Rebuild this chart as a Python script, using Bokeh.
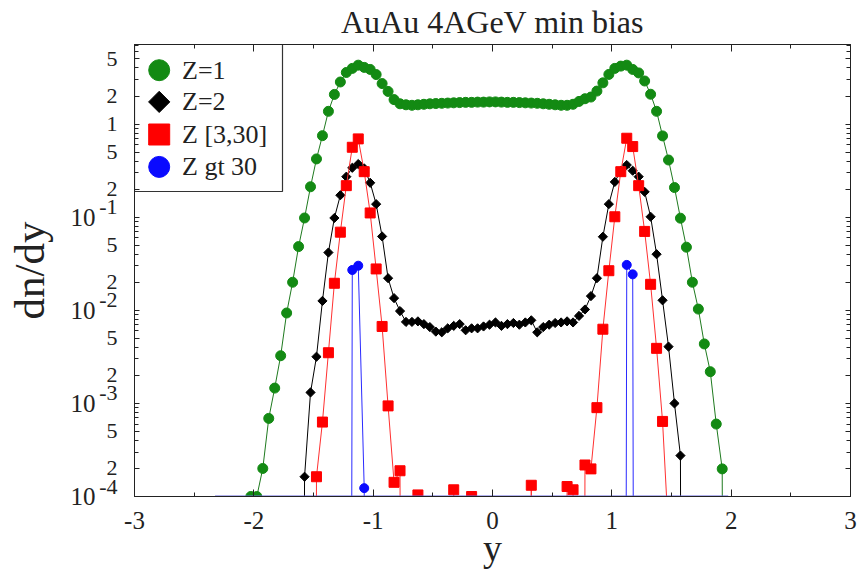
import numpy as np
from bokeh.plotting import figure
from bokeh.models import Range1d, LinearScale, FixedTicker, LinearAxis, LogAxis
from bokeh.core.properties import value
from bokeh.embed import file_html
from bokeh.resources import INLINE

# rapidity bin centres, bin width 0.05
rapidity = np.round(np.arange(-2.325, 2.0, 0.05), 3)

# dn/dy per fragment class (0 = empty bin)
z1 = [
    0, 0, 0, 0, 0, 0, 1.0e-4, 1.0e-4, 2.0e-4, 6.9e-4,
    1.46e-3, 3.25e-3, 9.35e-3, 0.0200, 0.0483, 0.098, 0.212, 0.422, 0.750, 1.37,
    2.08, 2.83, 3.58, 3.96, 4.29, 4.06, 3.86, 3.40, 2.72, 2.24,
    1.83, 1.65, 1.61, 1.59, 1.61, 1.63, 1.65, 1.66, 1.67, 1.68,
    1.69, 1.70, 1.71, 1.71, 1.72, 1.72, 1.73, 1.73, 1.72, 1.71,
    1.71, 1.70, 1.69, 1.68, 1.67, 1.65, 1.63, 1.61, 1.59, 1.59,
    1.63, 1.75, 1.87, 1.95, 2.26, 2.77, 3.41, 3.96, 4.19, 4.29,
    3.86, 3.54, 2.90, 2.09, 1.37, 0.746, 0.411, 0.208, 0.0975, 0.0476,
    0.0200, 0.0103, 4.35e-3, 2.19e-3, 6.0e-4, 1.98e-4, 0,
]
z2 = [
    0, 0, 0, 0, 0, 0, 0, 0, 0, 0,
    0, 0, 0, 0, 0, 1.63e-4, 1.31e-3, 3.17e-3, 0.0126, 0.0417,
    0.098, 0.172, 0.272, 0.339, 0.372, 0.334, 0.234, 0.138, 0.0621, 0.0221,
    0.0135, 0.0098, 0.0075, 0.0075, 0.0076, 0.0071, 0.0066, 0.0059, 0.0058, 0.0064,
    0.0068, 0.0071, 0.0061, 0.0064, 0.0064, 0.0067, 0.0070, 0.0074, 0.0068, 0.0071,
    0.0073, 0.0070, 0.0074, 0.0078, 0.0058, 0.0066, 0.0070, 0.0073, 0.0074, 0.0076,
    0.0074, 0.0087, 0.0102, 0.0142, 0.0221, 0.0616, 0.138, 0.239, 0.315, 0.363,
    0.315, 0.272, 0.187, 0.101, 0.0400, 0.0128, 4.07e-3, 1.0e-3, 2.75e-4, 0,
    0, 0, 0, 0, 0, 0, 0,
]
z3_30 = [
    0, 0, 0, 0, 0, 0, 0, 0, 0, 0,
    0, 0, 0, 0, 0, 0, 0, 1.63e-4, 6.3e-4, 3.5e-3,
    0.0195, 0.0690, 0.218, 0.563, 0.693, 0.308, 0.111, 0.0278, 6.7e-3, 9.4e-4,
    1.42e-4, 1.89e-4, 0, 0, 1.04e-4, 0, 0, 0, 0, 0,
    1.18e-4, 0, 0, 1.0e-4, 0, 0, 0, 0, 0, 0,
    0, 0, 0, 1.32e-4, 0, 0, 0, 0, 0, 1.28e-4,
    1.18e-4, 0, 2.18e-4, 1.98e-4, 9.0e-4, 6.26e-3, 0.0266, 0.101, 0.308, 0.704,
    0.573, 0.218, 0.0703, 0.0190, 3.9e-3, 6.4e-4, 4e-5, 0, 0, 0,
    0, 0, 0, 0, 0, 0, 0,
]
z_gt30 = [
    0, 0, 0, 0, 0, 0, 0, 0, 0, 0,
    0, 0, 0, 0, 0, 0, 0, 0, 0, 0,
    0, 0, 0, 0.0271, 0.0301, 1.23e-4, 0, 0, 0, 0,
    0, 0, 0, 0, 0, 0, 0, 0, 0, 0,
    0, 0, 0, 0, 0, 0, 0, 0, 0, 0,
    0, 0, 0, 0, 0, 0, 0, 0, 0, 0,
    0, 0, 0, 0, 0, 0, 0, 0, 0, 0.0307,
    0.0243, 0, 0, 0, 0, 0, 0, 0, 0, 0,
    0, 0, 0, 0, 0, 0, 0,
]

series_labels = ["Z=1", "Z=2", "Z [3,30]", "Z gt 30"]

x_major = [-3, -2, -1, 0, 1, 2, 3]
x_minor = [-2.5, -1.5, -0.5, 0.5, 1.5, 2.5]
y_decades = [1e-4, 1e-3, 1e-2, 1e-1]
y_decade_exponents = ["-4", "-3", "-2", "-1"]
y_mantissa_ticks = [2e-4, 5e-4, 2e-3, 5e-3, 2e-2, 5e-2, 2e-1, 5e-1, 1.0, 2.0, 5.0]
y_mantissa_labels = ["2", "5", "2", "5", "2", "5", "2", "5", "1", "2", "5"]
y_major = sorted(y_decades + y_mantissa_ticks)
y_minor = [m * d for d in (1e-4, 1e-3, 1e-2, 1e-1) for m in (3, 4, 6, 7, 8, 9)] + [3.0, 4.0, 6.0, 7.0]

Y_MIN, Y_MAX = 1e-4, 7.15
FRAME_W, FRAME_H = 716, 452
SERIF = "Liberation Serif"
INK = "#222222"
EMPTY = 1e-30  # empty bins sit far below the axis, so the lines drop straight down
EXP_RAISE = 10 ** (10 / 93.2)  # lifts the decade exponents ~10 px above their tick


def on_log(v):
    v = np.asarray(v, dtype=float)
    return np.where(v > 0, v, EMPTY)


p = figure(
    width=859, height=579,
    x_range=Range1d(-3, 3), y_range=Range1d(Y_MIN, Y_MAX), y_axis_type="log",
    output_backend="svg", toolbar_location=None,
    title="AuAu 4AGeV min bias",
)
p.min_border_left = 134
p.min_border_right = 9
p.min_border_top = 44
p.min_border_bottom = 83
p.grid.visible = False
p.outline_line_color = "#333333"
p.background_fill_color = "white"
p.border_fill_color = "white"

p.title.align = "center"
p.title.vertical_align = "top"
p.title.text_font = SERIF
p.title.text_font_style = "normal"
p.title.text_font_size = "32px"
p.title.text_color = INK
p.title.standoff = 6

xt = FixedTicker(ticks=x_major, minor_ticks=x_minor)
yt = FixedTicker(ticks=y_major, minor_ticks=y_minor)


def style_axis(ax):
    ax.axis_line_color = INK
    ax.major_tick_line_color = INK
    ax.minor_tick_line_color = INK
    ax.major_tick_out = 0
    ax.minor_tick_out = 0
    ax.major_label_text_font = SERIF
    ax.major_label_text_font_size = "25px"
    ax.major_label_text_color = INK
    ax.axis_label_text_font = SERIF
    ax.axis_label_text_font_style = "normal"
    ax.axis_label_text_color = INK


def ticks_only(ax):
    ax.major_label_text_color = None
    ax.major_label_text_font_size = "1px"
    ax.major_label_standoff = 0


def labels_only(ax):
    ax.axis_line_color = None
    ax.major_tick_line_color = None
    ax.minor_tick_line_color = None
    ax.major_tick_in = 0
    ax.minor_tick_in = 0


xa = p.xaxis[0]
xa.ticker = xt
style_axis(xa)
xa.major_tick_in = 7
xa.minor_tick_in = 4
xa.major_label_overrides = {t: str(t) for t in x_major}
xa.major_label_standoff = 15
xa.axis_label = "y"
xa.axis_label_text_font_size = "38px"
xa.axis_label_standoff = -5

# left side: tick marks on the frame edge, then the mantissa/exponent
# column, then the "10" column carrying the axis title
ya = p.yaxis[0]
ya.ticker = yt
style_axis(ya)
ya.major_tick_in = 5
ya.minor_tick_in = 4
ticks_only(ya)
ya.major_label_overrides = {t: "" for t in y_major}

exp_ticks = [d * EXP_RAISE for d in y_decades]
mid_ticks = y_mantissa_ticks + exp_ticks
mid_axis = LogAxis(ticker=FixedTicker(ticks=mid_ticks, minor_ticks=[]))
style_axis(mid_axis)
labels_only(mid_axis)
mid_axis.major_label_overrides = dict(zip(mid_ticks, y_mantissa_labels + y_decade_exponents))
mid_axis.major_label_text_font_size = "22px"
mid_axis.major_label_standoff = 17
p.add_layout(mid_axis, "left")

ten_axis = LogAxis(ticker=FixedTicker(ticks=y_decades, minor_ticks=[]))
style_axis(ten_axis)
labels_only(ten_axis)
ten_axis.major_label_overrides = {d: "10" for d in y_decades}
ten_axis.major_label_standoff = 1
ten_axis.axis_label = "dn/dy"
ten_axis.axis_label_text_font_size = "43px"
ten_axis.axis_label_standoff = 15
p.add_layout(ten_axis, "left")

top = LinearAxis(ticker=xt)
style_axis(top)
top.major_tick_in = 7
top.minor_tick_in = 4
ticks_only(top)
p.add_layout(top, "above")

right = LogAxis(ticker=yt)
style_axis(right)
right.major_tick_in = 5
right.minor_tick_in = 4
ticks_only(right)
p.add_layout(right, "right")

# data: line through all bins, markers on each bin
styles = [
    (z1, "#1f7a1f", "#138a13", "circle", 10, 0),
    (z2, "#000000", "#000000", "square", 6.5, np.pi / 4),
    (z3_30, "#ff3030", "#ff0000", "square", 10, 0),
    (z_gt30, "#2a2aff", "#0a0aff", "circle", 9, 0),
]
for vals, lc, mc, mk, sz, ang in styles:
    yv = on_log(vals)
    p.line(rapidity, yv, line_color=lc, line_width=1)
    p.scatter(rapidity, yv, marker=mk, size=sz, angle=ang,
              fill_color=mc, line_color=mc)

# heavy-fragment trace along the lower edge where its bins are empty
p.line(rapidity, np.full(len(rapidity), Y_MIN), line_color="#6464dc", line_width=2)

# legend box in frame pixel coordinates
p.extra_x_ranges = {"px": Range1d(0, FRAME_W)}
p.extra_y_ranges = {"px": Range1d(0, FRAME_H)}
p.extra_x_scales = {"px": LinearScale()}
p.extra_y_scales = {"px": LinearScale()}

LEG_W, LEG_H = 148, 147
leg_rows = [FRAME_H - 25.7, FRAME_H - 57.4, FRAME_H - 90.0, FRAME_H - 122.4]
p.quad(left=[0], right=[LEG_W], top=[FRAME_H], bottom=[FRAME_H - LEG_H],
       fill_color="white", line_color="#333333", line_width=1.2,
       x_range_name="px", y_range_name="px")
leg_markers = [("circle", 21, 0, "#138a13"), ("square", 15, np.pi / 4, "#000000"),
               ("square", 21, 0, "#ff0000"), ("circle", 21, 0, "#0a0aff")]
for (mk, sz, ang, col), yy in zip(leg_markers, leg_rows):
    p.scatter([24.7], [yy], marker=mk, size=sz, angle=ang, fill_color=col,
              line_color=col, x_range_name="px", y_range_name="px")
p.text([47.5] * 4, leg_rows, text=series_labels, text_font=value(SERIF),
       text_font_size="26px", text_baseline="middle", text_align="left",
       text_color=INK, x_range_name="px", y_range_name="px")

open("out.html", "w").write(file_html(p, INLINE))
